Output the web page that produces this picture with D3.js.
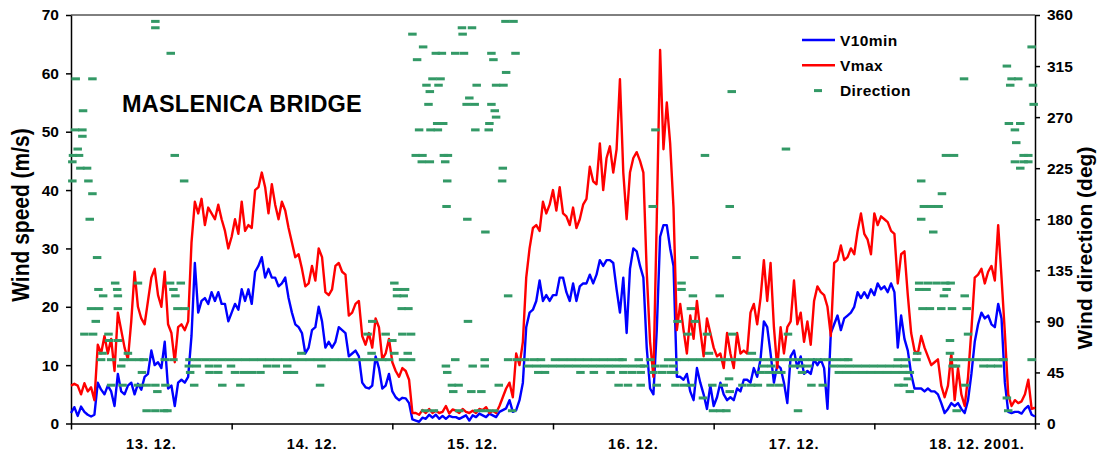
<!DOCTYPE html>
<html>
<head>
<meta charset="utf-8">
<script src="https://cdn.jsdelivr.net/npm/d3@7"></script>
<style>
  body { margin: 0; background: #fff; }
  svg { display: block; }
  text { font-family: 'Liberation Sans', Arial, sans-serif; font-weight: bold; fill: #000; }
</style>
</head>
<body>
<svg id="chart" width="1097" height="453"></svg>
<script>
// ---- data (half-hour samples, 13.12. 00:00 -> 19.12. 00:00) ----
const dayLabels = ['13. 12.', '14. 12.', '15. 12.', '16. 12.', '17. 12.', '18. 12.'];
const yearLabel = '2001.';
const speedTicks = [0, 10, 20, 30, 40, 50, 60, 70];
const dirTicks = [0, 45, 90, 135, 180, 225, 270, 315, 360];
const stepHours = 0.5;

const v10min = [
  1.8, 2.8, 1.3, 2.9, 2.0, 1.5, 1.2, 1.5, 7.0, 5.8, 5.0, 6.5, 5.5, 3.0, 8.5, 5.5,
  5.0, 6.5, 7.0, 5.0, 6.8, 5.8, 8.0, 8.5, 12.5, 10.0, 10.5, 9.5, 14.0, 6.0, 6.5, 3.0,
  7.0, 7.5, 7.0, 8.0, 15.0, 27.5, 19.0, 21.0, 21.5, 20.5, 22.5, 21.0, 22.5, 20.5, 20.5, 17.5,
  19.0, 20.5, 19.5, 23.0, 21.0, 23.0, 20.5, 26.0, 27.0, 28.5, 25.0, 26.5, 25.0, 25.0, 23.5, 24.0,
  25.0, 21.5, 19.0, 17.0, 16.5, 15.5, 12.0, 13.0, 16.0, 16.5, 20.0, 17.5, 13.0, 14.0, 13.0, 14.0,
  16.5, 16.0, 15.5, 11.5, 12.0, 12.5, 11.5, 7.0, 6.2, 6.0, 6.5, 11.5, 9.5, 6.0, 6.5, 8.5,
  5.5, 4.5, 4.0, 4.4, 4.3, 3.5, 0.7, 0.5, 0.3, 1.0, 0.8, 1.5, 1.0, 1.5, 0.8, 1.3,
  0.8, 1.3, 1.1, 1.1, 0.8, 1.1, 1.4, 0.5, 1.4, 1.1, 1.7, 1.4, 1.1, 1.7, 1.4, 1.1,
  2.0, 2.3, 2.6, 4.0, 2.0, 2.3, 4.0, 7.0, 16.5, 19.0, 19.5, 21.0, 24.5, 21.0, 22.0, 21.0,
  22.0, 22.0, 25.0, 25.0, 22.5, 21.0, 24.0, 21.0, 23.5, 24.0, 24.0, 25.5, 24.0, 25.5, 28.0, 27.0,
  28.0, 28.0, 27.5, 23.0, 19.0, 25.0, 15.5, 26.5, 30.0, 29.5, 27.0, 25.0, 13.0, 6.0, 5.0, 16.0,
  32.0, 34.0, 34.0, 30.0, 27.0, 8.0, 8.0, 7.5, 8.5, 5.5, 4.0, 9.5, 7.0, 5.0, 2.5, 6.5,
  3.0, 4.5, 7.0, 5.0, 4.0, 4.5, 4.0, 6.0, 5.5, 7.5, 7.5, 7.0, 9.5, 8.0, 11.0, 17.5,
  16.5, 12.0, 7.0, 10.0, 9.5, 7.0, 3.5, 11.5, 12.5, 9.5, 11.5, 8.5, 9.0, 8.5, 11.0, 10.0,
  11.0, 9.5, 2.5, 15.5, 17.0, 18.5, 16.0, 18.0, 18.5, 19.0, 20.0, 22.5, 21.5, 22.5, 21.5, 23.0,
  22.0, 24.0, 23.0, 23.5, 22.5, 24.0, 22.5, 13.0, 18.5, 14.5, 12.5, 8.5, 6.0, 6.0, 6.0, 5.5,
  6.0, 5.5, 5.5, 5.0, 3.5, 1.8, 2.5, 3.5, 3.0, 3.5, 2.5, 1.8, 4.0, 8.5, 14.0, 17.0,
  19.0, 18.0, 18.5, 17.0, 16.5, 20.5, 18.0, 7.0, 2.0, 1.8, 2.0, 2.0, 1.7, 2.5, 3.0, 1.5,
  1.2
];

const vmax = [
  6.5, 6.8, 6.5, 5.0, 6.9, 5.5, 6.2, 4.0, 13.5, 12.0, 15.0, 12.0, 14.5, 9.0, 19.0, 16.0,
  13.0, 11.0, 17.5, 26.0, 20.0, 18.0, 17.0, 21.0, 25.0, 26.5, 22.0, 20.0, 26.0, 17.0, 15.5, 10.5,
  16.5, 17.0, 16.0, 17.5, 31.0, 38.0, 36.0, 38.5, 34.0, 37.0, 36.0, 35.0, 37.5, 35.0, 33.0, 30.0,
  32.0, 35.0, 32.5, 38.0, 33.0, 34.0, 33.5, 40.0, 40.5, 43.0, 40.5, 36.0, 41.0, 37.5, 35.0, 38.0,
  36.5, 33.5, 31.0, 28.5, 29.0, 26.5, 23.5, 24.0, 27.0, 24.5, 30.0, 28.5, 22.5, 22.0, 23.0, 27.0,
  27.5, 26.0, 25.5, 18.5, 19.0, 20.5, 21.0, 15.0, 13.5, 15.5, 13.0, 18.0, 16.5, 11.0, 12.0, 14.5,
  10.5, 9.0, 8.0, 9.5, 9.0, 7.5, 1.8, 1.8, 1.5, 2.3, 1.8, 2.5, 1.8, 2.2, 1.8, 2.0,
  3.0, 1.7, 2.4, 2.2, 1.8, 2.5, 2.0, 1.8, 2.2, 1.8, 2.5, 2.3, 2.8, 1.8, 2.2, 1.8,
  3.0, 4.5, 6.0, 7.0, 4.5, 12.0, 10.0, 14.0, 25.0, 30.0, 33.5, 34.0, 33.0, 38.0, 36.0, 37.5,
  40.0, 36.5, 40.5, 36.0, 35.5, 34.0, 37.0, 33.5, 35.0, 37.5, 38.5, 44.0, 41.5, 41.0, 48.0, 40.0,
  45.5, 47.5, 43.0, 47.0, 59.0, 43.0, 35.0, 43.0, 45.5, 46.5, 45.0, 43.0, 26.0, 14.0, 8.0, 35.0,
  64.0, 47.0, 55.0, 48.0, 37.0, 16.0, 20.5, 16.0, 12.0, 18.5, 14.5, 21.0, 16.0, 11.5, 18.0, 15.5,
  13.0, 11.5, 12.0, 9.5, 15.5, 12.0, 9.5, 15.5, 12.0, 12.5, 12.0, 19.0, 20.5, 17.0, 21.5, 28.0,
  21.0, 27.5, 16.5, 9.5, 16.5, 12.0, 16.5, 17.5, 24.5, 17.0, 19.0, 14.0, 17.5, 13.5, 21.0, 23.5,
  22.5, 22.0, 20.0, 15.0, 27.5, 28.0, 30.5, 28.0, 28.5, 30.0, 29.0, 33.0, 36.0, 32.5, 31.5, 29.0,
  36.0, 34.0, 35.5, 35.0, 34.5, 33.0, 32.5, 24.0, 29.0, 29.5, 22.0, 15.5, 12.5, 12.0, 15.0, 13.0,
  11.5, 10.0, 10.5, 11.0, 6.5, 4.5, 6.5, 12.0, 4.0, 9.5, 5.0, 3.0, 8.0, 16.0, 25.0, 25.5,
  26.5, 24.0, 26.0, 27.0, 24.5, 34.0, 25.0, 15.5, 5.0, 3.0, 4.0, 3.5, 3.8, 5.0, 7.5, 2.5,
  2.7
];

// direction (deg) -> hours since 13.12. 00:00 at which that reading appears
const directionRows = [
  [354.375, [12.6, 64.9, 66.1]],
  [348.75, [12.6, 58.4, 59.9]],
  [343.125, [51.0, 58.5]],
  [331.875, [52.6, 143.5]],
  [326.25, [14.9, 54.5, 55.4, 57.4, 58.7, 62.8, 66.4]],
  [320.625, [51.7, 63.1]],
  [315, [139.8]],
  [309.375, [65.0]],
  [303.75, [0.7, 3.2, 54.0, 55.2, 133.4, 140.5, 141.5]],
  [298.125, [53.1, 54.9, 60.6, 63.5, 64.6, 140.3, 143.7]],
  [292.5, [53.6, 98.7]],
  [286.875, [59.5]],
  [281.25, [53.4, 59.1, 60.3, 62.8, 143.8]],
  [275.625, [1.8, 63.3]],
  [270, [63.5]],
  [264.375, [54.7, 55.6, 62.5, 140.1, 141.8]],
  [258.75, [0.6, 1.7, 52.0, 53.7, 54.8, 60.4, 62.4, 87.3, 141.0]],
  [253.125, [1.7]],
  [247.5, [141.2]],
  [241.875, [1.0, 106.8]],
  [236.25, [0.3, 1.2, 15.5, 51.5, 52.5, 55.7, 56.3, 94.7, 130.7, 131.9, 142.3, 143.0]],
  [230.625, [0.2, 52.4, 53.6, 55.9, 141.0, 142.3, 143.0]],
  [225, [1.4, 2.4, 64.5, 141.8]],
  [213.75, [0.2, 2.6, 16.9, 56.2, 64.4, 127.0]],
  [202.5, [3.2, 130.1]],
  [191.25, [56.1, 86.9, 98.4, 127.4, 128.5, 129.6]],
  [180, [2.8, 59.2, 127.0]],
  [168.75, [61.9, 128.8]],
  [146.25, [3.9, 93.1, 99.4]],
  [123.75, [6.6, 10.0, 14.8, 16.4, 48.3, 91.2, 126.7, 128.0, 129.3, 130.6, 131.4]],
  [118.125, [4.1, 6.9, 15.3, 48.7, 49.9, 91.2, 126.7, 127.8, 130.8]],
  [112.5, [4.8, 7.0, 15.6, 48.7, 49.7, 65.3, 92.9, 96.9, 130.4, 133.5]],
  [101.25, [3.0, 4.2, 7.0, 15.9, 17.0, 49.4, 50.4, 92.6, 127.2, 128.3, 130.0, 131.6, 133.8]],
  [90, [3.7, 45.0, 59.3, 90.6, 93.2]],
  [78.75, [2.0, 3.3, 5.6, 44.3, 47.0, 49.5, 50.8, 92.1, 95.0, 98.8, 107.1, 134.0]],
  [73.125, [5.7, 7.0, 48.0, 131.3]],
  [61.875, [4.7, 8.5, 34.4, 44.9, 48.3, 50.3, 95.3, 101.7, 126.4, 131.3]],
  [56.25, [4.5, 6.0, 7.8, 9.0, 10.2, 10.9, 14.0, 15.3, 17.7, 18.9, 20.1, 21.3, 22.5, 23.7,
    24.9, 26.1, 27.3, 28.5, 29.7, 30.9, 32.1, 33.3, 34.5, 35.7, 36.9, 38.1, 39.3, 40.5, 41.7,
    42.9, 44.1, 45.3, 46.5, 47.5, 49.6, 50.8, 57.4, 61.8, 65.3, 66.6, 67.9, 69.2, 70.2, 72.3,
    73.5, 74.7, 75.9, 77.1, 78.3, 79.5, 80.7, 81.9, 82.4, 84.8, 86.5, 89.2, 90.4, 91.6, 92.8,
    94.0, 95.2, 96.4, 97.6, 98.8, 100.0, 101.2, 102.4, 103.6, 104.8, 106.0, 107.2, 108.4,
    109.6, 110.8, 112.0, 113.2, 114.4, 115.6, 116.1, 123.5, 124.7, 126.3, 131.8, 133.0,
    134.2, 135.4, 136.6, 137.8, 139.0, 139.3, 143.5]],
  [50.625, [7.5, 17.6, 18.8, 20.6, 21.9, 23.9, 29.3, 30.6, 32.3, 37.4, 56.0, 60.0, 61.8,
    68.3, 69.5, 70.7, 71.9, 73.1, 74.3, 75.5, 76.7, 77.9, 79.1, 80.3, 81.5, 82.7, 83.9, 85.1,
    85.6, 87.3, 88.6, 89.9, 103.4, 104.6, 107.8, 109.0, 110.1, 113.9, 115.1, 116.3, 117.5,
    118.7, 119.9, 121.1, 122.3, 123.5, 124.5, 131.7, 132.2, 136.3, 137.4, 138.5]],
  [45, [10.6, 17.8, 20.7, 22.0, 24.5, 25.8, 27.0, 28.3, 32.3, 33.3, 56.2, 69.8, 70.8, 76.1,
    78.1, 80.6, 82.5, 83.8, 85.1, 87.0, 88.3, 89.6, 90.1, 103.0, 104.2, 105.4, 106.1, 109.2,
    114.7, 115.9, 117.1, 118.3, 119.5, 120.7, 121.9, 123.1, 124.3, 125.3]],
  [39.375, [98.3, 125.0]],
  [33.75, [6.0, 7.7, 10.0, 11.3, 12.6, 14.1, 18.4, 22.6, 25.3, 37.2, 56.9, 57.9, 63.9, 81.8,
    83.2, 85.1, 87.5, 90.3, 91.6, 92.6, 95.8, 97.5, 100.3, 101.6, 102.6, 104.5, 105.8, 110.6,
    112.3, 123.6, 124.4, 133.6]],
  [28.125, [12.9, 57.1, 59.8, 61.3, 98.4, 125.3]],
  [22.5, [94.4, 139.8]],
  [11.25, [11.3, 12.6, 13.9, 14.4, 52.9, 54.2, 58.0, 60.8, 62.0, 63.2, 65.9, 95.9, 97.0, 97.9,
    108.6, 132.3, 140.0]]
];

// ---- layout ----
const plot = { left: 71, right: 1035, top: 15, bottom: 423.5 };
const svg = d3.select('#chart');

const x = d3.scaleLinear().domain([0, dayLabels.length * 24]).range([plot.left, plot.right]);
const ySpeed = d3.scaleLinear().domain([0, 70]).range([plot.bottom, plot.top]);
const yDir = d3.scaleLinear().domain([0, 360]).range([plot.bottom, plot.top]);

function styleAxis(g, size) {
  g.attr('font-family', null).attr('font-size', null);
  g.select('.domain').attr('stroke', '#000').attr('stroke-width', 1.5);
  g.selectAll('.tick line').attr('stroke', '#000').attr('stroke-width', 1.5);
  g.selectAll('.tick text').style('font-size', size + 'px');
}

// top frame line
svg.append('line')
  .attr('x1', plot.left).attr('x2', plot.right)
  .attr('y1', plot.top).attr('y2', plot.top)
  .attr('stroke', '#000').attr('stroke-width', 1);

// left axis
svg.append('g')
  .attr('transform', 'translate(' + plot.left + ',0)')
  .call(d3.axisLeft(ySpeed).tickValues(speedTicks).tickSize(5).tickSizeOuter(0).tickPadding(7))
  .call(styleAxis, 15.5);

// right axis
svg.append('g')
  .attr('transform', 'translate(' + plot.right + ',0)')
  .call(d3.axisRight(yDir).tickValues(dirTicks).tickSize(5).tickSizeOuter(0).tickPadding(7))
  .call(styleAxis, 15.5);

// bottom axis: day boundaries as ticks, labels centred in each day
const dayTicks = d3.range(0, dayLabels.length * 24 + 1, 24);
svg.append('g')
  .attr('transform', 'translate(0,' + plot.bottom + ')')
  .call(d3.axisBottom(x).tickValues(dayTicks).tickSize(6).tickSizeOuter(0).tickFormat(''))
  .call(styleAxis, 14.5);

const labelG = svg.append('g');
dayLabels.forEach(function (label, i) {
  const cx = x(i * 24 + 12);
  const t = labelG.append('text')
    .attr('x', cx)
    .attr('y', 448.5)
    .attr('text-anchor', 'middle')
    .style('font-size', '14.5px')
    .style('letter-spacing', '0.9px')
    .text(label);
  if (i === dayLabels.length - 1) {
    const w = t.node().getComputedTextLength();
    labelG.append('text')
      .attr('x', cx + w / 2 + 4)
      .attr('y', 448.5)
      .style('font-size', '14.5px')
      .style('letter-spacing', '0.9px')
      .text(yearLabel);
  }
});

// axis titles
svg.append('text')
  .attr('transform', 'translate(29,215) scale(1.15,1) rotate(-90)')
  .attr('text-anchor', 'middle')
  .style('font-size', '21px')
  .text('Wind speed (m/s)');

svg.append('text')
  .attr('transform', 'translate(1092,248) rotate(-90)')
  .attr('text-anchor', 'middle')
  .style('font-size', '21px')
  .text('Wind direction (deg)');

// title
svg.append('text')
  .attr('x', 122)
  .attr('y', 111.5)
  .style('font-size', '23.5px')
  .style('letter-spacing', '0.2px')
  .text('MASLENICA BRIDGE');

// ---- series ----
const line = d3.line()
  .x(function (d, i) { return x(i * stepHours); })
  .y(function (d) { return ySpeed(d); });

svg.append('path')
  .datum(v10min)
  .attr('fill', 'none')
  .attr('stroke', '#0000ff')
  .attr('stroke-width', 2.4)
  .attr('stroke-linejoin', 'round')
  .attr('d', line);

svg.append('path')
  .datum(vmax)
  .attr('fill', 'none')
  .attr('stroke', '#ff0000')
  .attr('stroke-width', 2.4)
  .attr('stroke-linejoin', 'round')
  .attr('d', line);

const direction = [];
directionRows.forEach(function (row) {
  row[1].forEach(function (h) { direction.push({ hour: h, deg: row[0] }); });
});

svg.append('g')
  .selectAll('rect')
  .data(direction)
  .join('rect')
  .attr('x', function (d) { return x(d.hour) - 4.25; })
  .attr('y', function (d) { return yDir(d.deg) - 1.5; })
  .attr('width', 8.5)
  .attr('height', 3)
  .attr('fill', '#339966');

// ---- legend ----
const legend = svg.append('g');
const legendItems = [
  { name: 'V10min', color: '#0000ff', type: 'line' },
  { name: 'Vmax', color: '#ff0000', type: 'line' },
  { name: 'Direction', color: '#339966', type: 'dash' }
];
legendItems.forEach(function (d, i) {
  const y = 40 + i * 25.3;
  if (d.type === 'line') {
    legend.append('line')
      .attr('x1', 802).attr('x2', 835)
      .attr('y1', y).attr('y2', y)
      .attr('stroke', d.color).attr('stroke-width', 2.4);
  } else {
    legend.append('rect')
      .attr('x', 814).attr('y', y - 1.5)
      .attr('width', 8).attr('height', 3)
      .attr('fill', d.color);
  }
  legend.append('text')
    .attr('x', 840)
    .attr('y', y + 5.5)
    .style('font-size', '15.5px')
    .style('letter-spacing', '0.4px')
    .text(d.name);
});
</script>
</body>
</html>
